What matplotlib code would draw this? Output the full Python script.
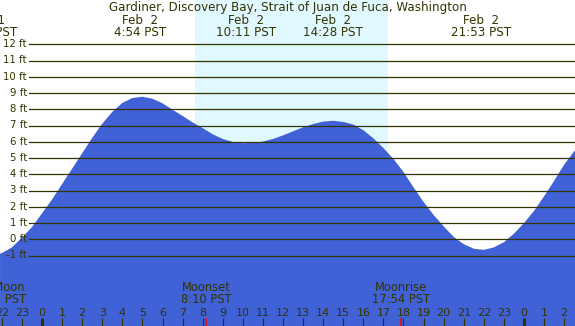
import matplotlib
matplotlib.use("Agg")
import matplotlib.pyplot as plt
import numpy as np

# tide height (ft) every half hour, hours relative to Feb 2 00:00 PST
tide_hours = [-2.09, -2.0, -1.5, -1.0, -0.5, 0.0, 0.5, 1.0, 1.5, 2.0, 2.5, 3.0, 3.5, 4.0,
              4.5, 5.0, 5.5, 6.0, 6.5, 7.0, 7.5, 8.0, 8.5, 9.0, 9.5, 10.0, 10.5, 11.0,
              11.5, 12.0, 12.5, 13.0, 13.5, 14.0, 14.5, 15.0, 15.5, 16.0, 16.5, 17.0,
              17.5, 18.0, 18.5, 19.0, 19.5, 20.0, 20.5, 21.0, 21.5, 22.0, 22.5, 23.0,
              23.5, 24.0, 24.5, 25.0, 25.5, 26.0, 26.55]
tide_ft = [-0.88, -0.85, -0.5, 0.1, 0.75, 1.6, 2.45, 3.4, 4.35, 5.3, 6.25, 7.12, 7.85, 8.4,
           8.7, 8.78, 8.66, 8.38, 7.98, 7.6, 7.2, 6.85, 6.47, 6.18, 6.0, 5.92, 5.93, 6.02,
           6.18, 6.4, 6.65, 6.9, 7.1, 7.25, 7.3, 7.23, 7.07, 6.72, 6.22, 5.62,
           4.95, 4.15, 3.2, 2.3, 1.5, 0.8, 0.15, -0.3, -0.58, -0.65, -0.5, -0.18,
           0.35, 1.0, 1.75, 2.65, 3.6, 4.6, 5.5]

# high / low tide labels along the top
tide_event_hours = [-2.74, 4.9, 10.18, 14.47, 21.88]
tide_event_dates = ["Feb  1", "Feb  2", "Feb  2", "Feb  2", "Feb  2"]
tide_event_times = ["21:16 PST", "4:54 PST", "10:11 PST", "14:28 PST", "21:53 PST"]

# moon events along the bottom
moon_hours = [-2.25, 8.17, 17.9]
moon_names = ["Full Moon", "Moonset", "Moonrise"]
moon_times = ["21:45 PST", "8:10 PST", "17:54 PST"]

sunrise = 7.62
sunset = 17.23

ft_levels = list(range(-1, 13))
hour_ticks = list(range(-2, 27))
hour_labels = [str(h % 24) for h in hour_ticks]

title = "Gardiner, Discovery Bay, Strait of Juan de Fuca, Washington"

W, H = 575, 326
night = "#b0c4de"
day = "#e0f8ff"
water = "#4161d6"
ink = "#333300"


def fy(py):
    # pixel row -> axes fraction
    return 1 - py / H


fig = plt.figure(figsize=(W / 100, H / 100), dpi=100)
ax = fig.add_axes([0, 0, 1, 1])
ax.set_xlim(-2.092, 26.54)
ax.set_ylim(-5.34, 14.74)
ax.set_facecolor(night)
ax.axis("off")
ax.patch.set_visible(True)

ax.axvspan(sunrise, sunset, color=day, lw=0, zorder=1)
ax.fill_between(tide_hours, -6, tide_ft, color=water, lw=0, zorder=2)

for lv in ft_levels:
    ax.axhline(lv, xmin=29 / W, xmax=1, color=ink, lw=0.9, zorder=3)
    ax.text(27 / W, lv - 0.17, f"{lv} ft", transform=ax.get_yaxis_transform(),
            ha="right", va="baseline", fontsize=7.3, color=ink, zorder=4)

xt = ax.get_xaxis_transform()
ax.text(0.5, fy(11.5), title, transform=ax.transAxes, ha="center", va="baseline",
        fontsize=8.6, color=ink)
for h, d, t in zip(tide_event_hours, tide_event_dates, tide_event_times):
    ax.text(h, fy(24), d, transform=xt, ha="center", va="baseline", fontsize=8.6, color=ink)
    ax.text(h, fy(35.7), t, transform=xt, ha="center", va="baseline", fontsize=8.6, color=ink)

for h, lab in zip(hour_ticks, hour_labels):
    ax.text(h, fy(316), lab, transform=xt, ha="center", va="baseline", fontsize=8,
            color=ink, zorder=4)
    lw = 2.2 if h % 24 == 0 else 0.8
    ax.vlines(h, 0, fy(318), transform=xt, color=ink, lw=lw, zorder=4)

for h, n, t in zip(moon_hours, moon_names, moon_times):
    ax.text(h, fy(291.3), n, transform=xt, ha="center", va="baseline", fontsize=8.3, color=ink)
    ax.text(h, fy(303.3), t, transform=xt, ha="center", va="baseline", fontsize=8.3, color=ink)
    ax.vlines(h, 0, fy(318), transform=xt, color="red", lw=1.1, zorder=5)

fig.savefig("out.png", dpi=100)
